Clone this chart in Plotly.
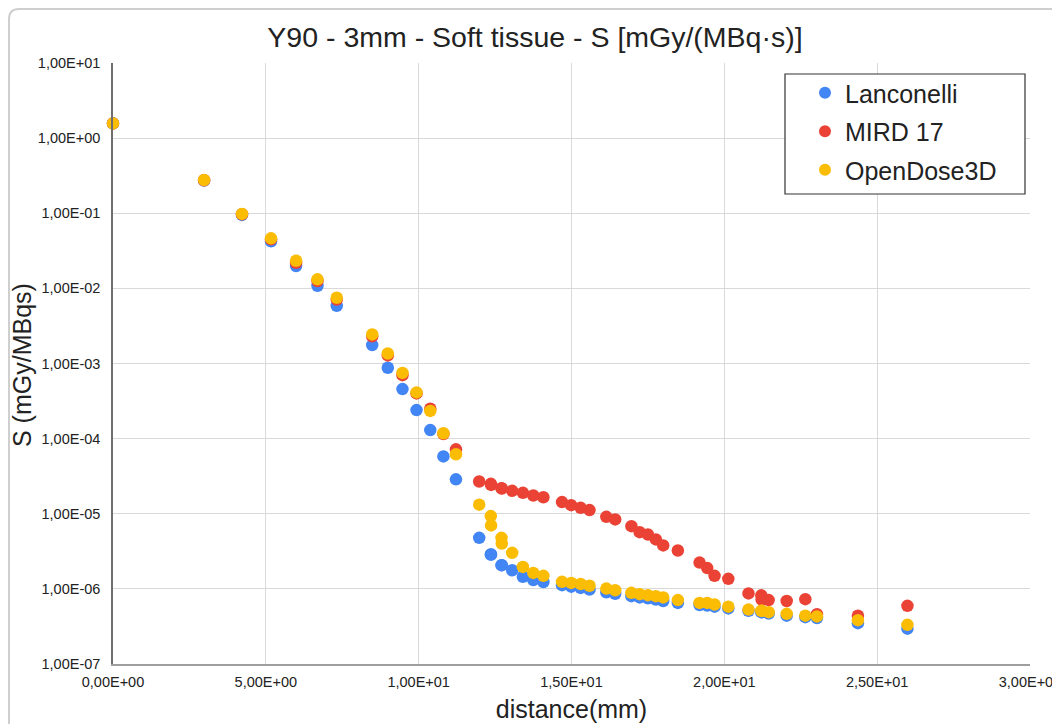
import plotly.graph_objects as go

# ---- data ----
distance_mm = [0.00, 2.98, 4.22, 5.17, 5.99, 6.69, 7.32, 8.48, 8.99, 9.47,
               9.93, 10.38, 10.81, 11.22, 11.98, 12.36, 12.37, 12.71, 12.72, 13.06,
               13.41, 13.75, 14.08, 14.69, 14.99, 15.30, 15.59, 16.14, 16.43, 16.96,
               17.23, 17.50, 17.76, 18.00, 18.48, 19.19, 19.44, 19.68, 20.13, 20.79,
               21.21, 21.22, 21.45, 22.04, 22.65, 23.03, 24.37, 25.99]

lanconelli = [1.57, 0.272, 0.095, 0.0424, 0.0198, 0.0108, 0.00586, 0.00176, 0.000877, 0.000456,
              0.00024, 0.00013, 5.8e-5, 2.87e-5, 4.78e-6, 2.87e-6, 2.87e-6, 2.07e-6, 2.07e-6, 1.77e-6,
              1.45e-6, 1.31e-6, 1.23e-6, 1.12e-6, 1.07e-6, 1.03e-6, 0.98e-6, 0.90e-6, 0.86e-6, 0.80e-6,
              0.77e-6, 0.75e-6, 0.72e-6, 0.69e-6, 0.65e-6, 0.61e-6, 0.60e-6, 0.58e-6, 0.55e-6, 0.51e-6,
              0.49e-6, 0.49e-6, 0.47e-6, 0.44e-6, 0.42e-6, 0.41e-6, 0.35e-6, 0.295e-6]

mird17 = [1.57, 0.275, 0.097, 0.045, 0.0219, 0.0125, 0.0071, 0.0023, 0.00128, 0.0007,
          0.0004, 0.00025, 0.000115, 7.2e-5, 2.69e-5, 2.5e-5, 2.42e-5, 2.19e-5, 2.17e-5, 2.02e-5,
          1.9e-5, 1.75e-5, 1.66e-5, 1.43e-5, 1.30e-5, 1.2e-5, 1.12e-5, 9.1e-6, 8.4e-6, 6.84e-6,
          5.69e-6, 5.3e-6, 4.55e-6, 3.79e-6, 3.24e-6, 2.24e-6, 1.89e-6, 1.49e-6, 1.36e-6, 8.7e-7,
          8.2e-7, 7.2e-7, 7.1e-7, 6.9e-7, 7.3e-7, 4.6e-7, 4.4e-7, 5.94e-7]

opendose3d = [1.57, 0.277, 0.098, 0.0464, 0.0233, 0.0132, 0.0075, 0.00244, 0.00136, 0.00075,
              0.000412, 0.000234, 0.000118, 6.2e-5, 1.32e-5, 9.3e-6, 7.0e-6, 4.78e-6, 4.02e-6, 3.02e-6,
              1.96e-6, 1.63e-6, 1.49e-6, 1.24e-6, 1.20e-6, 1.16e-6, 1.10e-6, 1.01e-6, 0.96e-6, 0.885e-6,
              0.85e-6, 0.825e-6, 0.80e-6, 0.77e-6, 0.71e-6, 0.65e-6, 0.65e-6, 0.62e-6, 0.58e-6, 0.53e-6,
              0.51e-6, 0.51e-6, 0.49e-6, 0.465e-6, 0.44e-6, 0.43e-6, 0.383e-6, 0.332e-6]

series_names = ["Lanconelli", "MIRD 17", "OpenDose3D"]
series_colors = ["#4285F4", "#EA4335", "#FBBC04"]

y_tickvals = [1e-7, 1e-6, 1e-5, 1e-4, 1e-3, 1e-2, 1e-1, 1e0, 1e1]
y_ticktext = ["1,00E-07", "1,00E-06", "1,00E-05", "1,00E-04", "1,00E-03",
              "1,00E-02", "1,00E-01", "1,00E+00", "1,00E+01"]
x_tickvals = [0, 5, 10, 15, 20, 25, 30]
x_ticktext = ["0,00E+00", "5,00E+00", "1,00E+01", "1,50E+01", "2,00E+01", "2,50E+01", "3,00E+01"]

# ---- layout geometry ----
# The page puts the figure 8px in from the top-left corner; pixel targets below
# are page pixels, converted to figure/paper coordinates.
OFF = 8
W, H = 1060 - OFF, 724 - OFF
L, R, T, B = 113 - OFF, 30, 63 - OFF, 724 - 664
PW, PH = W - L - R, H - T - B


def px(x):
    return (x - OFF - L) / PW


def py(y):
    return (H - B - (y - OFF)) / PH


fig = go.Figure()
for name, vals, col in zip(series_names, [lanconelli, mird17, opendose3d], series_colors):
    fig.add_trace(go.Scatter(
        x=distance_mm, y=vals, mode="markers", name=name, legendgroup=name,
        marker=dict(color=col, size=12.5, line=dict(width=0)),
        cliponaxis=False,
    ))

FONT = "Liberation Sans, Arial, sans-serif"

frame_path = (f"M {px(9)},{py(740)} L {px(9)},{py(19)} "
              f"Q {px(9)},{py(9)} {px(19)},{py(9)} L {px(1080)},{py(9)}")

fig.update_layout(
    width=W, height=H,
    margin=dict(l=L, r=R, t=T, b=B, autoexpand=False),
    paper_bgcolor="white", plot_bgcolor="white",
    font=dict(family=FONT, color="#222222"),
    title=dict(text="Y90 - 3mm - Soft tissue - S [mGy/(MBq·s)]",
               x=px(535), xref="paper", xanchor="center",
               y=1 - (37 - OFF) / H, yanchor="middle",
               font=dict(size=28.5, color="#222222", family=FONT)),
    xaxis=dict(range=[0, 30], tickvals=x_tickvals, ticktext=x_ticktext,
               showgrid=True, gridcolor="#d9d9d9", gridwidth=1,
               showline=True, linecolor="#9e9e9e", linewidth=1.5,
               zeroline=False, ticks="", ticklabelstandoff=4,
               ticklabeloverflow="allow",
               tickfont=dict(size=14.5, color="#222222"),
               title=dict(text="distance(mm)", font=dict(size=25, color="#222222"), standoff=11)),
    yaxis=dict(type="log", range=[-7, 1], tickvals=y_tickvals, ticktext=y_ticktext,
               showgrid=True, gridcolor="#d9d9d9", gridwidth=1,
               showline=True, linecolor="#6e6e6e", linewidth=1.5,
               zeroline=False, ticks="", ticklabelstandoff=8,
               ticklabeloverflow="allow",
               tickfont=dict(size=14.5, color="#222222")),
    legend=dict(x=px(805), y=py(70), xanchor="left", yanchor="top",
                bgcolor="rgba(0,0,0,0)", borderwidth=0,
                font=dict(size=25, color="#222222", family=FONT),
                tracegroupgap=3, traceorder="grouped", itemsizing="constant"),
    annotations=[
        dict(text="S (mGy/MBqs)", textangle=-90, showarrow=False,
             xref="paper", yref="paper", x=px(22), y=py(365),
             xanchor="center", yanchor="middle",
             font=dict(size=25, color="#222222", family=FONT)),
    ],
    shapes=[
        dict(type="rect", xref="paper", yref="paper",
             x0=px(785), x1=px(1025), y0=py(194), y1=py(74),
             line=dict(color="#333333", width=1.2), fillcolor="white", layer="above"),
        dict(type="path", xref="paper", yref="paper", path=frame_path,
             line=dict(color="#cfcfcf", width=2)),
    ],
)

fig.write_html("out.html")
